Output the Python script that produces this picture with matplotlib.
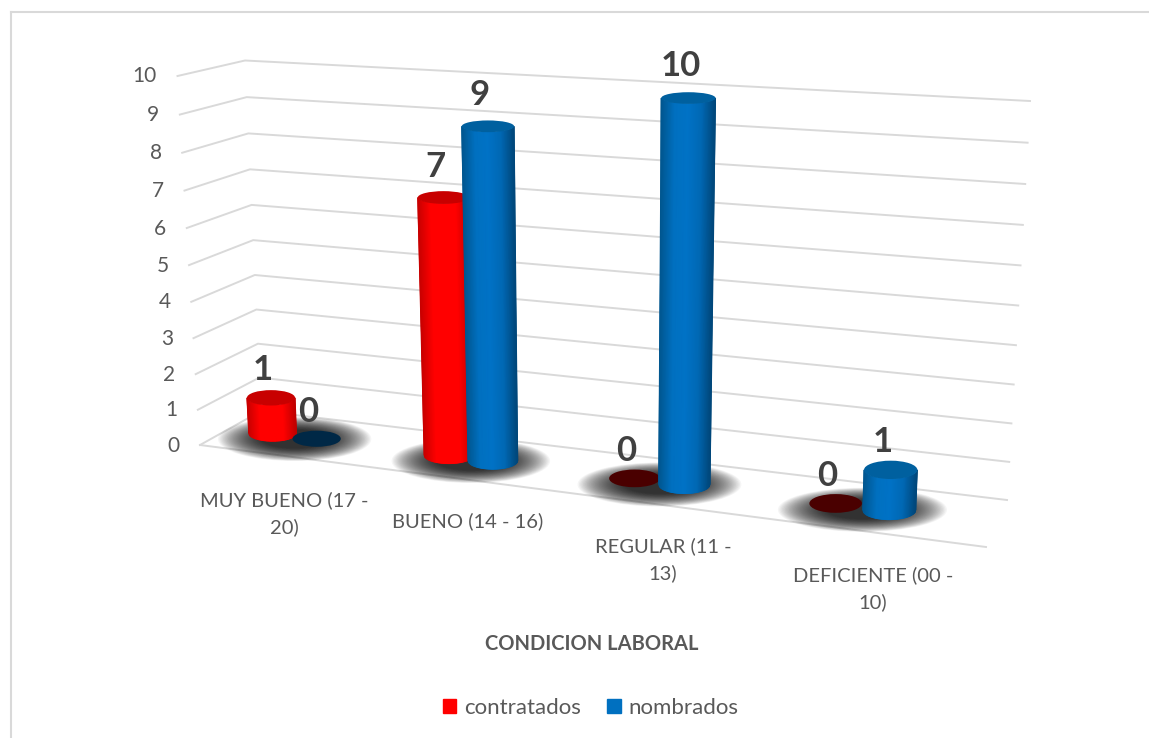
import numpy as np
import matplotlib
matplotlib.use('Agg')
import matplotlib.pyplot as plt
from matplotlib.colors import LinearSegmentedColormap
from matplotlib.patches import Ellipse, Patch

plt.rcParams['font.family'] = ['Lato', 'DejaVu Sans']

categories = ['MUY BUENO (17 -\n20)', 'BUENO (14 - 16)', 'REGULAR (11 -\n13)', 'DEFICIENTE (00 -\n10)']
contratados = [1, 7, 0, 0]
nombrados = [0, 9, 10, 1]
y_ticks = [0, 1, 2, 3, 4, 5, 6, 7, 8, 9, 10]

# where things sit in the fake 3D box, in image pixels
FRONT_L, FRONT_R = np.array([200, 445.]), np.array([986, 547.])
BACK_L, BACK_R = np.array([261, 411.]), np.array([1007, 500.])
WALL_FL, WALL_BL, WALL_BR = np.array([177.5, 76.]), np.array([245, 60.5]), np.array([1030, 101.])
cat_pos = [0.335, 1.255, 2.24, 3.30]
half_gaps = [0.115, 0.115, 0.13, 0.14]
label_pos = [(284, 513.5), (468, 521), (663, 559.5), (873, 588.5)]

GRID = '#d9d9d9'
TEXT = '#595959'
LABEL = '#404040'
red_cmap = LinearSegmentedColormap.from_list('r', ['#c80000', '#ff0000', '#ff0000', '#ff0000', '#c00000'])
blue_cmap = LinearSegmentedColormap.from_list('b', ['#00568f', '#0070c0', '#0072c6', '#0068b4', '#00477a'])


def warp(t):
    # gridlines bunch up slightly towards the floor
    return t + 0.05 * t * (t - 1)


def lerp(a, b, t):
    return a + (b - a) * t


def wall_point(corner0, corner10, v):
    return lerp(corner0, corner10, warp(v / 10))


def bar_geometry(x, v):
    base = lerp(lerp(FRONT_L, FRONT_R, x / 4), lerp(BACK_L, BACK_R, x / 4), 0.5)
    up = np.array([-18.5 + 9.5 * x, -(351 + 15 * x)])
    top = base + v / 10 * up
    # cylinders get a little wider going up
    w_base = 47.5 + 1.6 * x
    return base, top, w_base, w_base + 0.3 * v


def ellipse_height(w, y):
    return w * (0.18 + 0.00035 * y)


def draw_cylinder(ax, x, v, cmap, top_color, zero_color, z):
    base, top, w_base, w_top = bar_geometry(x, v)
    if v == 0:
        ax.add_patch(Ellipse(base, w_base, ellipse_height(w_base, base[1]), color=zero_color, lw=0, zorder=z))
        return top
    t = np.linspace(-1, 1, 61)
    arc = np.sqrt(1 - t ** 2)
    xs = np.vstack([base[0] + w_base / 2 * t, top[0] + w_top / 2 * t])
    ys = np.vstack([base[1] + ellipse_height(w_base, base[1]) / 2 * arc,
                    top[1] + ellipse_height(w_top, top[1]) / 2 * arc])
    shade = np.vstack([t, t])
    ax.pcolormesh(xs, ys, shade, cmap=cmap, shading='gouraud', vmin=-1, vmax=1, zorder=z)
    ax.add_patch(Ellipse(top, w_top, ellipse_height(w_top, top[1]), color=top_color, lw=0, zorder=z + 0.1))
    return top


fig = plt.figure(figsize=(11.49, 7.38), dpi=100)
ax = fig.add_axes([0, 0, 1, 1])
ax.set_xlim(0, 1149)
ax.set_ylim(738, 0)
ax.axis('off')

# chart border, only top and left show up
ax.plot([10.5, 1149], [12, 12], color=GRID, lw=1.5)
ax.plot([10.5, 10.5], [12, 738], color=GRID, lw=1.5)

# gridlines and y labels
for v in y_ticks:
    p0 = wall_point(FRONT_L, WALL_FL, v)
    p1 = wall_point(BACK_L, WALL_BL, v)
    p2 = wall_point(BACK_R, WALL_BR, v)
    ax.plot([p0[0], p1[0], p2[0]], [p0[1], p1[1], p2[1]], color=GRID, lw=1.4, zorder=1)
    ax.text(p0[0] - 20.5, p0[1] + 0.5, str(v), ha='right', va='center', fontsize=15, color=TEXT)
ax.plot([FRONT_L[0], FRONT_R[0]], [FRONT_L[1], FRONT_R[1]], color=GRID, lw=1.4, zorder=1)

# soft shadows under each group, many faint ellipses so the edge fades out
for i in range(len(categories)):
    base = bar_geometry(cat_pos[i], 0)[0]
    for s in np.linspace(1.05, 0.45, 36):
        ax.add_patch(Ellipse((base[0], base[1] + 3), (146 + 5 * i) * s, 42 * s, color='black',
                             alpha=0.04, lw=0, zorder=2))

for i in range(len(categories)):
    x_r = cat_pos[i] - half_gaps[i]
    x_b = cat_pos[i] + half_gaps[i]
    top_r = draw_cylinder(ax, x_r, contratados[i], red_cmap, '#c80000', '#4a0000', 3 + i)
    top_b = draw_cylinder(ax, x_b, nombrados[i], blue_cmap, '#00609f', '#002846', 3.5 + i)
    for top, val in ((top_r, contratados[i]), (top_b, nombrados[i])):
        ax.text(top[0] - 8, top[1] - 27 - 0.5 * val, str(val), ha='center', va='center', fontsize=25,
                fontweight='bold', color=LABEL, zorder=10)
    ax.text(label_pos[i][0], label_pos[i][1], categories[i], ha='center', va='center', fontsize=14.5,
            color=TEXT, linespacing=1.6)

ax.text(591.5, 644, 'CONDICION LABORAL', ha='center', va='center', fontsize=14.5, fontweight='bold', color=TEXT)

handles = [Patch(color='#ff0000', label='contratados'), Patch(color='#0070c0', label='nombrados')]
ax.legend(handles=handles, ncol=2, loc='center', bbox_to_anchor=(590.5, 708), bbox_transform=ax.transData,
          frameon=False, fontsize=16, labelcolor=TEXT, handlelength=0.6, handleheight=0.6,
          handletextpad=0.35, columnspacing=1.2)

fig.savefig('out.png', dpi=100)
